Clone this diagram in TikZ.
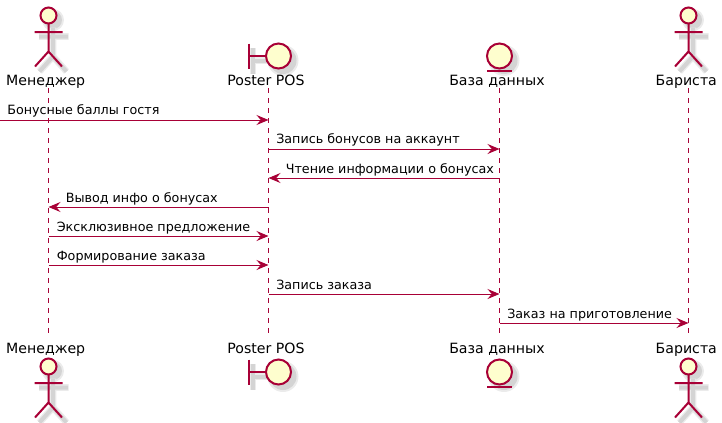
\documentclass[tikz,border=0pt]{standalone}
\usepackage{fontspec}
\setmainfont{DejaVu Sans}
\usetikzlibrary{arrows.meta}
\definecolor{umlline}{HTML}{A80036}
\definecolor{umlfill}{HTML}{FEFECE}
\definecolor{umlshadow}{HTML}{D4D4D4}
\definecolor{umlshadowb}{HTML}{EBEBEB}
\tikzset{
  x=0.75pt,y=-0.75pt,
  figline/.style={draw=umlline,line width=1.5pt,line cap=butt},
  figfill/.style={draw=umlline,fill=umlfill,line width=1.5pt},
  shline/.style={draw=umlshadow,line width=3pt},
  shlineb/.style={draw=umlshadowb,line width=5pt},
  lifeline/.style={draw=umlline,line width=0.75pt,dash pattern=on 3.75pt off 3.75pt},
  msgline/.style={draw=umlline,line width=0.75pt,-{Stealth[length=9pt,width=7.5pt,inset=3.2pt,fill=umlline]}},
  partlabel/.style={font=\fontsize{10.6pt}{12pt}\selectfont,text=black,inner sep=0pt,anchor=base},
  msglabel/.style={font=\fontsize{9.55pt}{12pt}\selectfont,text=black,inner sep=0pt,anchor=base west},
}
\newcommand{\stick}[2]{% x, head centre y
  \begin{scope}[shift={(#1,#2)}]
    \fill[umlshadowb] (4.5,4.5) circle (11);
    \fill[umlshadow] (4.5,4.5) circle (9);
    \draw[shlineb] (-9.5,21) -- (20,21) (4.5,12) -- (4.5,41) (-9,56) -- (4.5,41) -- (18,56);
    \draw[shline] (-9.5,21) -- (19.5,21) (4.5,12) -- (4.5,41) (-9,56) -- (4.5,41) -- (18,56);
    \draw[figfill] (0,0) circle (8);
    \draw[figline] (-14,16.5) -- (14,16.5) (0,8) -- (0,36) (-13.5,51) -- (0,36) -- (13.5,51);
  \end{scope}}
\newcommand{\boundaryfig}[2]{% circle centre
  \begin{scope}[shift={(#1,#2)}]
    \draw[shlineb] (-25.5,-8) -- (-25.5,17.5) (-25.5,4.5) -- (-8,4.5);
    \draw[shline] (-25.5,-8) -- (-25.5,17.5) (-25.5,4.5) -- (-8,4.5);
    \fill[umlshadowb] (4.5,4.5) circle (15.5);
    \fill[umlshadow] (4.5,4.5) circle (13.5);
    \draw[figline] (-30,-12.5) -- (-30,13) (-30,0) -- (-12.5,0);
    \draw[figfill] (0,0) circle (12.5);
  \end{scope}}
\newcommand{\entityfig}[2]{% circle centre
  \begin{scope}[shift={(#1,#2)}]
    \fill[umlshadowb] (4.5,4.5) circle (15.5);
    \fill[umlshadow] (4.5,4.5) circle (13.5);
    \draw[figfill] (0,0) circle (12.5);
    \draw[figline] (-12.5,15) -- (12.5,15);
  \end{scope}}
\begin{document}
\begin{tikzpicture}
\useasboundingbox (0,0) rectangle (722,422);
% lifeline ends
\coordinate (mgrT) at (48.5,88);   \coordinate (mgrB) at (48.5,338);
\coordinate (posT) at (268.5,88);  \coordinate (posB) at (268.5,338);
\coordinate (dbT)  at (499.5,88);  \coordinate (dbB)  at (499.5,338);
\coordinate (barT) at (688.5,88);  \coordinate (barB) at (688.5,338);
\coordinate (guest) at (0,120);
\draw[lifeline] (mgrT) -- (mgrB);
\draw[lifeline] (posT) -- (posB);
\draw[lifeline] (dbT) -- (dbB);
\draw[lifeline] (barT) -- (barB);
% participants, top
\stick{48.5}{15.5}
\boundaryfig{278.5}{56}
\entityfig{499.5}{56}
\stick{688.5}{15.5}
\node[partlabel] (mgrTop) at (45.7,85) {Менеджер};
\node[partlabel] (posTop) at (266,85) {Poster POS};
\node[partlabel] (dbTop)  at (497,85) {База данных};
\node[partlabel] (barTop) at (686.3,85) {Бариста};
% participants, bottom
\node[partlabel] (mgrBot) at (45.7,353) {Менеджер};
\node[partlabel] (posBot) at (266,353) {Poster POS};
\node[partlabel] (dbBot)  at (497,353) {База данных};
\node[partlabel] (barBot) at (686.3,353) {Бариста};
\stick{48.5}{366.5}
\boundaryfig{278.5}{372}
\entityfig{499.5}{372}
\stick{688.5}{366.5}
% messages
\draw[msgline] (guest) -- (posT |- guest);
\node[msglabel] (m1) at (7,114) {Бонусные баллы гостя};
\draw[msgline] (posT |- 0,149) -- (dbT |- 0,149);
\node[msglabel] (m2) at (276,143) {Запись бонусов на аккаунт};
\draw[msgline] (dbT |- 0,178) -- (posT |- 0,178);
\node[msglabel] (m3) at (285.5,173) {Чтение информации о бонусах};
\draw[msgline] (posT |- 0,207) -- (mgrT |- 0,207);
\node[msglabel] (m4) at (65.5,202) {Вывод инфо о бонусах};
\draw[msgline] (mgrT |- 0,236) -- (posT |- 0,236);
\node[msglabel] (m5) at (56.5,231) {Эксклюзивное предложение};
\draw[msgline] (mgrT |- 0,265) -- (posT |- 0,265);
\node[msglabel] (m6) at (56.5,260) {Формирование заказа};
\draw[msgline] (posT |- 0,294) -- (dbT |- 0,294);
\node[msglabel] (m7) at (276,289) {Запись заказа};
\draw[msgline] (dbT |- 0,323) -- (barT |- 0,323);
\node[msglabel] (m8) at (507,318) {Заказ на приготовление};
\end{tikzpicture}
\end{document}
